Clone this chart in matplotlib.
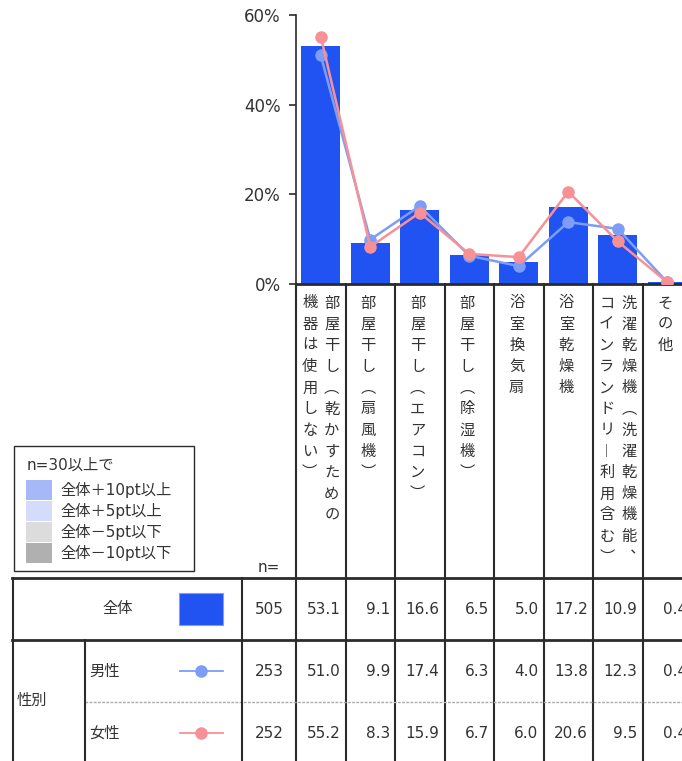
import matplotlib
matplotlib.use('Agg')
import matplotlib.pyplot as plt
from matplotlib.patches import Rectangle

plt.rcParams['font.family'] = ['DejaVu Sans', 'Noto Sans CJK JP']
JP = ['Noto Sans CJK JP', 'DejaVu Sans']

# category labels, written as vertical text columns (right column first)
categories = [
    ['部屋干し︵乾かすための', '機器は使用しない︶'],
    ['部屋干し︵扇風機︶'],
    ['部屋干し︵エアコン︶'],
    ['部屋干し︵除湿機︶'],
    ['浴室換気扇'],
    ['浴室乾燥機'],
    ['洗濯乾燥機︵洗濯乾燥機能︑', 'コインランドリ︱利用含む︶'],
    ['その他'],
]
total = [53.1, 9.1, 16.6, 6.5, 5.0, 17.2, 10.9, 0.4]
male = [51.0, 9.9, 17.4, 6.3, 4.0, 13.8, 12.3, 0.4]
female = [55.2, 8.3, 15.9, 6.7, 6.0, 20.6, 9.5, 0.4]
n_values = [505, 253, 252]
row_labels = ['全体', '男性', '女性']
group_label = '性別'
yticks = [0, 20, 40, 60]
legend_title = 'n=30以上で'
legend_labels = ['全体＋10pt以上', '全体＋5pt以上', '全体－5pt以下', '全体－10pt以下']
legend_colors = ['#a6b8f8', '#d3ddfb', '#dcdcdc', '#b0b0b0']

BAR_C = '#2152f2'
MALE_C = '#7d9df6'
FEMALE_C = '#f79195'
TXT = '#333333'
LINE = '#2b2b2b'

W, H = 682, 761
fig = plt.figure(figsize=(W / 100, H / 100), dpi=100)

# chart area (pixel layout: left 296, top 15, bottom 284, 49.5 px per category)
cw = 49.5
ax = fig.add_axes([296 / W, 1 - 284 / H, (W - 296) / W, (284 - 15) / H])
x = list(range(len(total)))
ax.set_xlim(-0.5, -0.5 + (W - 296) / cw)
ax.set_ylim(0, 60)
ax.bar(x, total, width=0.78, color=BAR_C, zorder=2)
ax.plot(x, male, color=MALE_C, lw=1.8, marker='o', ms=8, zorder=3)
ax.plot(x, female, color=FEMALE_C, lw=1.8, marker='o', ms=8, zorder=4)
ax.set_yticks(yticks)
ax.set_yticklabels([f'{t}%' for t in yticks])
ax.tick_params(axis='y', length=5, width=1.2, color=LINE, labelsize=12, labelcolor=TXT, pad=6)
ax.set_xticks([])
for s in ['top', 'right']:
    ax.spines[s].set_visible(False)
ax.spines['left'].set_color(LINE)
ax.spines['left'].set_linewidth(1.2)
ax.spines['bottom'].set_color(LINE)
ax.spines['bottom'].set_linewidth(2)
ax.patch.set_alpha(0)

# overlay in figure pixels for labels and table
ov = fig.add_axes([0, 0, 1, 1])
ov.set_xlim(0, W)
ov.set_ylim(H, 0)
ov.axis('off')


def to_px(xd):
    disp = ax.transData.transform((xd, 0))
    return ov.transData.inverted().transform(disp)[0]


edges = [to_px(i - 0.5) for i in range(len(total) + 1)]
centers = [to_px(i) for i in x]

# vertical separators
for e in edges:
    ov.plot([e, e], [284, H], color=LINE, lw=1.5)

# vertical category labels
step = 21.2
for c, cols in zip(centers, categories):
    if len(cols) == 1:
        offs = [-2]
    else:
        offs = [11, -11]
    for off, col in zip(offs, cols):
        for k, ch in enumerate(col):
            ov.text(c + off, 303 + k * step, ch, ha='center', va='center',
                    fontsize=11, color=TXT, family=JP)

# table grid
ov.plot([12, W], [578, 578], color=LINE, lw=2)
ov.plot([12, W], [640, 640], color=LINE, lw=2)
ov.plot([85, W], [702, 702], color='#aaaaaa', lw=1, ls=(0, (2, 1)))
ov.plot([13, 13], [578, H], color=LINE, lw=1.5)
ov.plot([85, 85], [640, H], color=LINE, lw=1.5)
ov.plot([242, 242], [578, H], color=LINE, lw=1.5)

ov.text(269, 568, 'n=', ha='center', va='center', fontsize=11, color=TXT)

row_y = [609, 671, 733]
ov.text(118, row_y[0], row_labels[0], ha='center', va='center', fontsize=11, color=TXT, family=JP)
ov.text(89, row_y[1], row_labels[1], ha='left', va='center', fontsize=11, color=TXT, family=JP)
ov.text(89, row_y[2], row_labels[2], ha='left', va='center', fontsize=11, color=TXT, family=JP)
ov.text(17, 700, group_label, ha='left', va='center', fontsize=11, color=TXT, family=JP)

ov.add_patch(Rectangle((179, 593), 44, 32, facecolor=BAR_C, edgecolor='#7f9cf6', lw=0.8))
for y, c in [(row_y[1], MALE_C), (row_y[2], FEMALE_C)]:
    ov.plot([180, 223], [y, y], color=c, lw=1.3)
    ov.plot([201], [y], marker='o', ms=8, color=c)

for y, n, vals in zip(row_y, n_values, [total, male, female]):
    ov.text(269, y, str(n), ha='center', va='center', fontsize=11, color=TXT)
    for i, v in enumerate(vals):
        ov.text(edges[i + 1] - 5, y, f'{v:.1f}', ha='right', va='center',
                fontsize=11, color=TXT)

# colour legend box
ov.add_patch(Rectangle((14, 446), 180, 125, facecolor='white', edgecolor=LINE, lw=1))
ov.text(27, 465, legend_title, ha='left', va='center', fontsize=11, color=TXT)
for k, (lab, col) in enumerate(zip(legend_labels, legend_colors)):
    yc = 490 + k * 21
    ov.add_patch(Rectangle((26, yc - 10), 26, 20, facecolor=col, edgecolor='none'))
    ov.text(60, yc, lab, ha='left', va='center', fontsize=11, color=TXT)

fig.savefig('out.png', dpi=100)
